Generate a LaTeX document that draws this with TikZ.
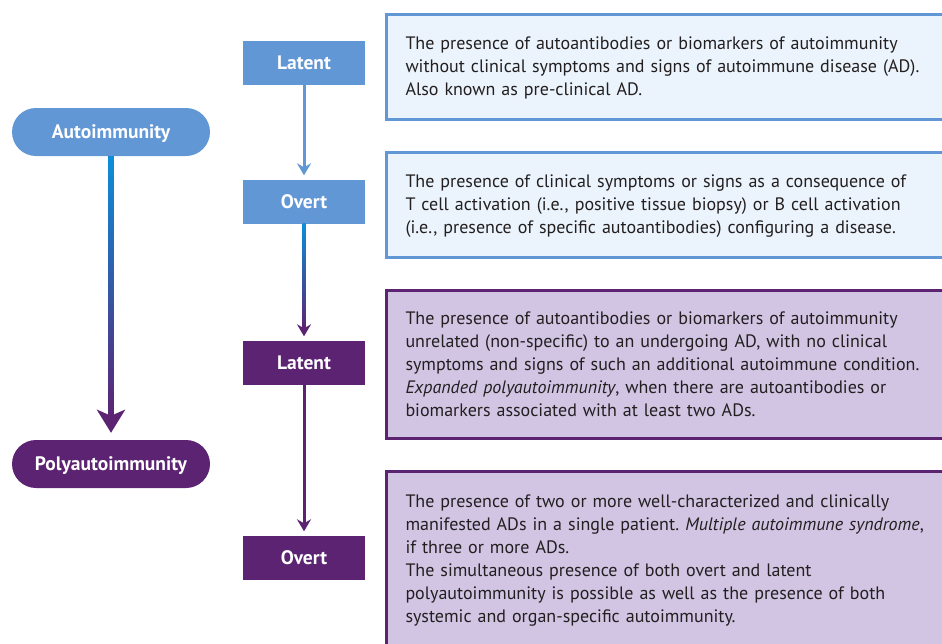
\documentclass[tikz,border=0pt]{standalone}
\usepackage{fontspec}
\setmainfont{PT Sans}
\frenchspacing
\definecolor{stageblue}{RGB}{97, 151, 213}
\definecolor{stagepurple}{RGB}{92, 35, 114}
\definecolor{paleblue}{RGB}{235, 244, 252}
\definecolor{palepurple}{RGB}{209, 197, 227}
\definecolor{gradblue}{RGB}{11, 143, 218}
\definecolor{bodytext}{RGB}{35, 31, 32}
\usetikzlibrary{arrows.meta,positioning,calc}

\tikzset{
    pill/.style={rounded corners=24pt, minimum width=198pt, minimum height=48pt,
        text height=13.5pt, text depth=0pt,
        text=white, font=\fontsize{19.5}{22}\selectfont\bfseries},
    stage/.style={minimum width=122pt, minimum height=44pt,
        text height=13.5pt, text depth=0pt,
        text=white, font=\fontsize{19.5}{22}\selectfont\bfseries},
    descbox/.style={anchor=north west, line width=3pt, text width=528pt, inner xsep=19.5pt,
        align=left, text=bodytext, font=\fontsize{18}{23}\selectfont},
    thinarrow/.style={line width=3pt, -{Stealth[length=12pt, width=14pt, inset=4pt]}, shorten >=4pt},
    bigarrow/.style={line width=5.5pt, -{Stealth[length=23pt, width=28pt, inset=6pt]}, shorten >=7pt}
}

\begin{document}
\begin{tikzpicture}[x=1pt, y=-1pt]
    \useasboundingbox (0,0) rectangle (942,643);
    \clip (0,0) rectangle (942,643);

    % Left column
    \node[pill, fill=stageblue] (auto) at (111,132) {Autoimmunity};
    \node[pill, fill=stagepurple] (poly) at (111,464) {Polyautoimmunity};
    \draw[bigarrow, stagepurple] (auto) -- (poly);
    \shade[top color=gradblue, bottom color=stagepurple]
        ($(auto.south)+(-2.75,0)$) rectangle ($(poly.north)+(2.75,-22)$);

    % Stages
    \node[stage, fill=stageblue] (latentA) at (304,63) {Latent};
    \node[stage, fill=stageblue] (overtA) at (304,201.5) {Overt};
    \node[stage, fill=stagepurple] (latentB) at (304,362.5) {Latent};
    \node[stage, fill=stagepurple] (overtB) at (304,557.5) {Overt};

    \draw[thinarrow, stageblue] (latentA) -- (overtA);
    \draw[thinarrow, stagepurple] (overtA) -- (latentB);
    \shade[top color=gradblue, bottom color=stagepurple]
        ($(overtA.south)+(-1.5,0)$) rectangle ($(latentB.north)+(1.5,-12)$);
    \draw[thinarrow, stagepurple] (latentB) -- (overtB);

    % Descriptions
    \node[descbox, draw=stageblue, fill=paleblue, minimum height=105pt] (descA) at (384.5,12.5)
        {\rule{0pt}{15pt}The presence of autoantibodies or biomarkers of autoimmunity\\
         without clinical symptoms and signs of autoimmune disease (AD).\\
         Also known as pre-clinical AD.};
    \node[descbox, draw=stageblue, fill=paleblue, minimum height=105pt] (descB) at (384.5,150.5)
        {\rule{0pt}{15pt}The presence of clinical symptoms or signs as a consequence of\\
         T cell activation (i.e., positive tissue biopsy) or B cell activation\\
         (i.e., presence of specific autoantibodies) configuring a disease.};
    \node[descbox, draw=stagepurple, fill=palepurple, minimum height=148pt] (descC) at (384.5,288.5)
        {The presence of autoantibodies or biomarkers of autoimmunity\\
         unrelated (non-specific) to an undergoing AD, with no clinical\\
         symptoms and signs of such an additional autoimmune condition.\\
         \textit{Expanded polyautoimmunity}, when there are autoantibodies or\\
         biomarkers associated with at least two ADs.};
    \node[descbox, draw=stagepurple, fill=palepurple, minimum height=180pt] (descD) at (384.5,469.5)
        {The presence of two or more well-characterized and clinically\\
         manifested ADs in a single patient. \textit{Multiple autoimmune syndrome},\\
         if three or more ADs.\\
         The simultaneous presence of both overt and latent\\
         polyautoimmunity is possible as well as the presence of both\\
         systemic and organ-specific autoimmunity.};
\end{tikzpicture}
\end{document}
